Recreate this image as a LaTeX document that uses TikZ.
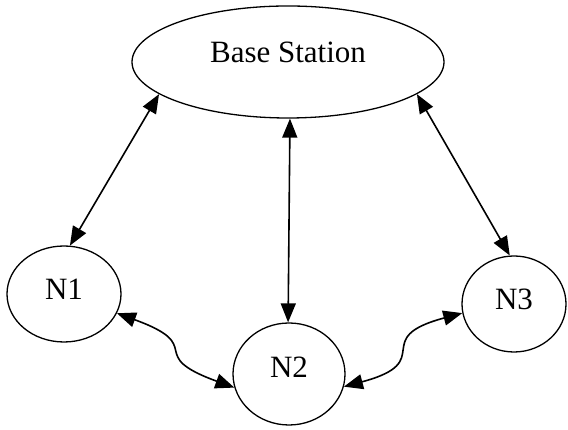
\documentclass[tikz,border=0pt]{standalone}
\usepackage{fontspec}
\setmainfont{Liberation Serif}
\usepackage{tikz}
\usetikzlibrary{arrows.meta,shapes.geometric}

\begin{document}
\begin{tikzpicture}[x=1pt, y=1pt,
                   every node/.style={font=\fontsize{31}{37}\selectfont},
                   station/.style={draw, ellipse, line width=1.3pt, inner sep=0pt,
                                   minimum width=312pt, minimum height=112pt, text depth=19pt},
                   sensor/.style={draw, ellipse, line width=1.3pt, inner sep=0pt, text depth=10pt},
                   link/.style={{Triangle[length=19pt,width=15pt]}-{Triangle[length=19pt,width=15pt]},
                                line width=1.6pt}]
    \useasboundingbox (0,0) rectangle (568,430);
    \node[station] (bs) at (288,368) {Base Station};
    \node[sensor, minimum width=114pt, minimum height=96pt] (n1) at (64,136) {N1};
    \node[sensor, minimum width=112pt, minimum height=102pt, text depth=14pt] (n2) at (289,56) {N2};
    \node[sensor, minimum width=104pt, minimum height=96pt] (n3) at (514,126) {N3};
    \draw[link] (bs.194) -- (n1.83);
    \draw[link] (bs.272) -- (n2.91);
    \draw[link] (bs.-14) -- (n3.95);
    \draw[link] (n1.-20) to[out=-20, in=160, looseness=1.8] (n2.194);
    \draw[link] (n2.-13) to[out=15, in=195, looseness=1.8] (n3.190);
\end{tikzpicture}
\end{document}
